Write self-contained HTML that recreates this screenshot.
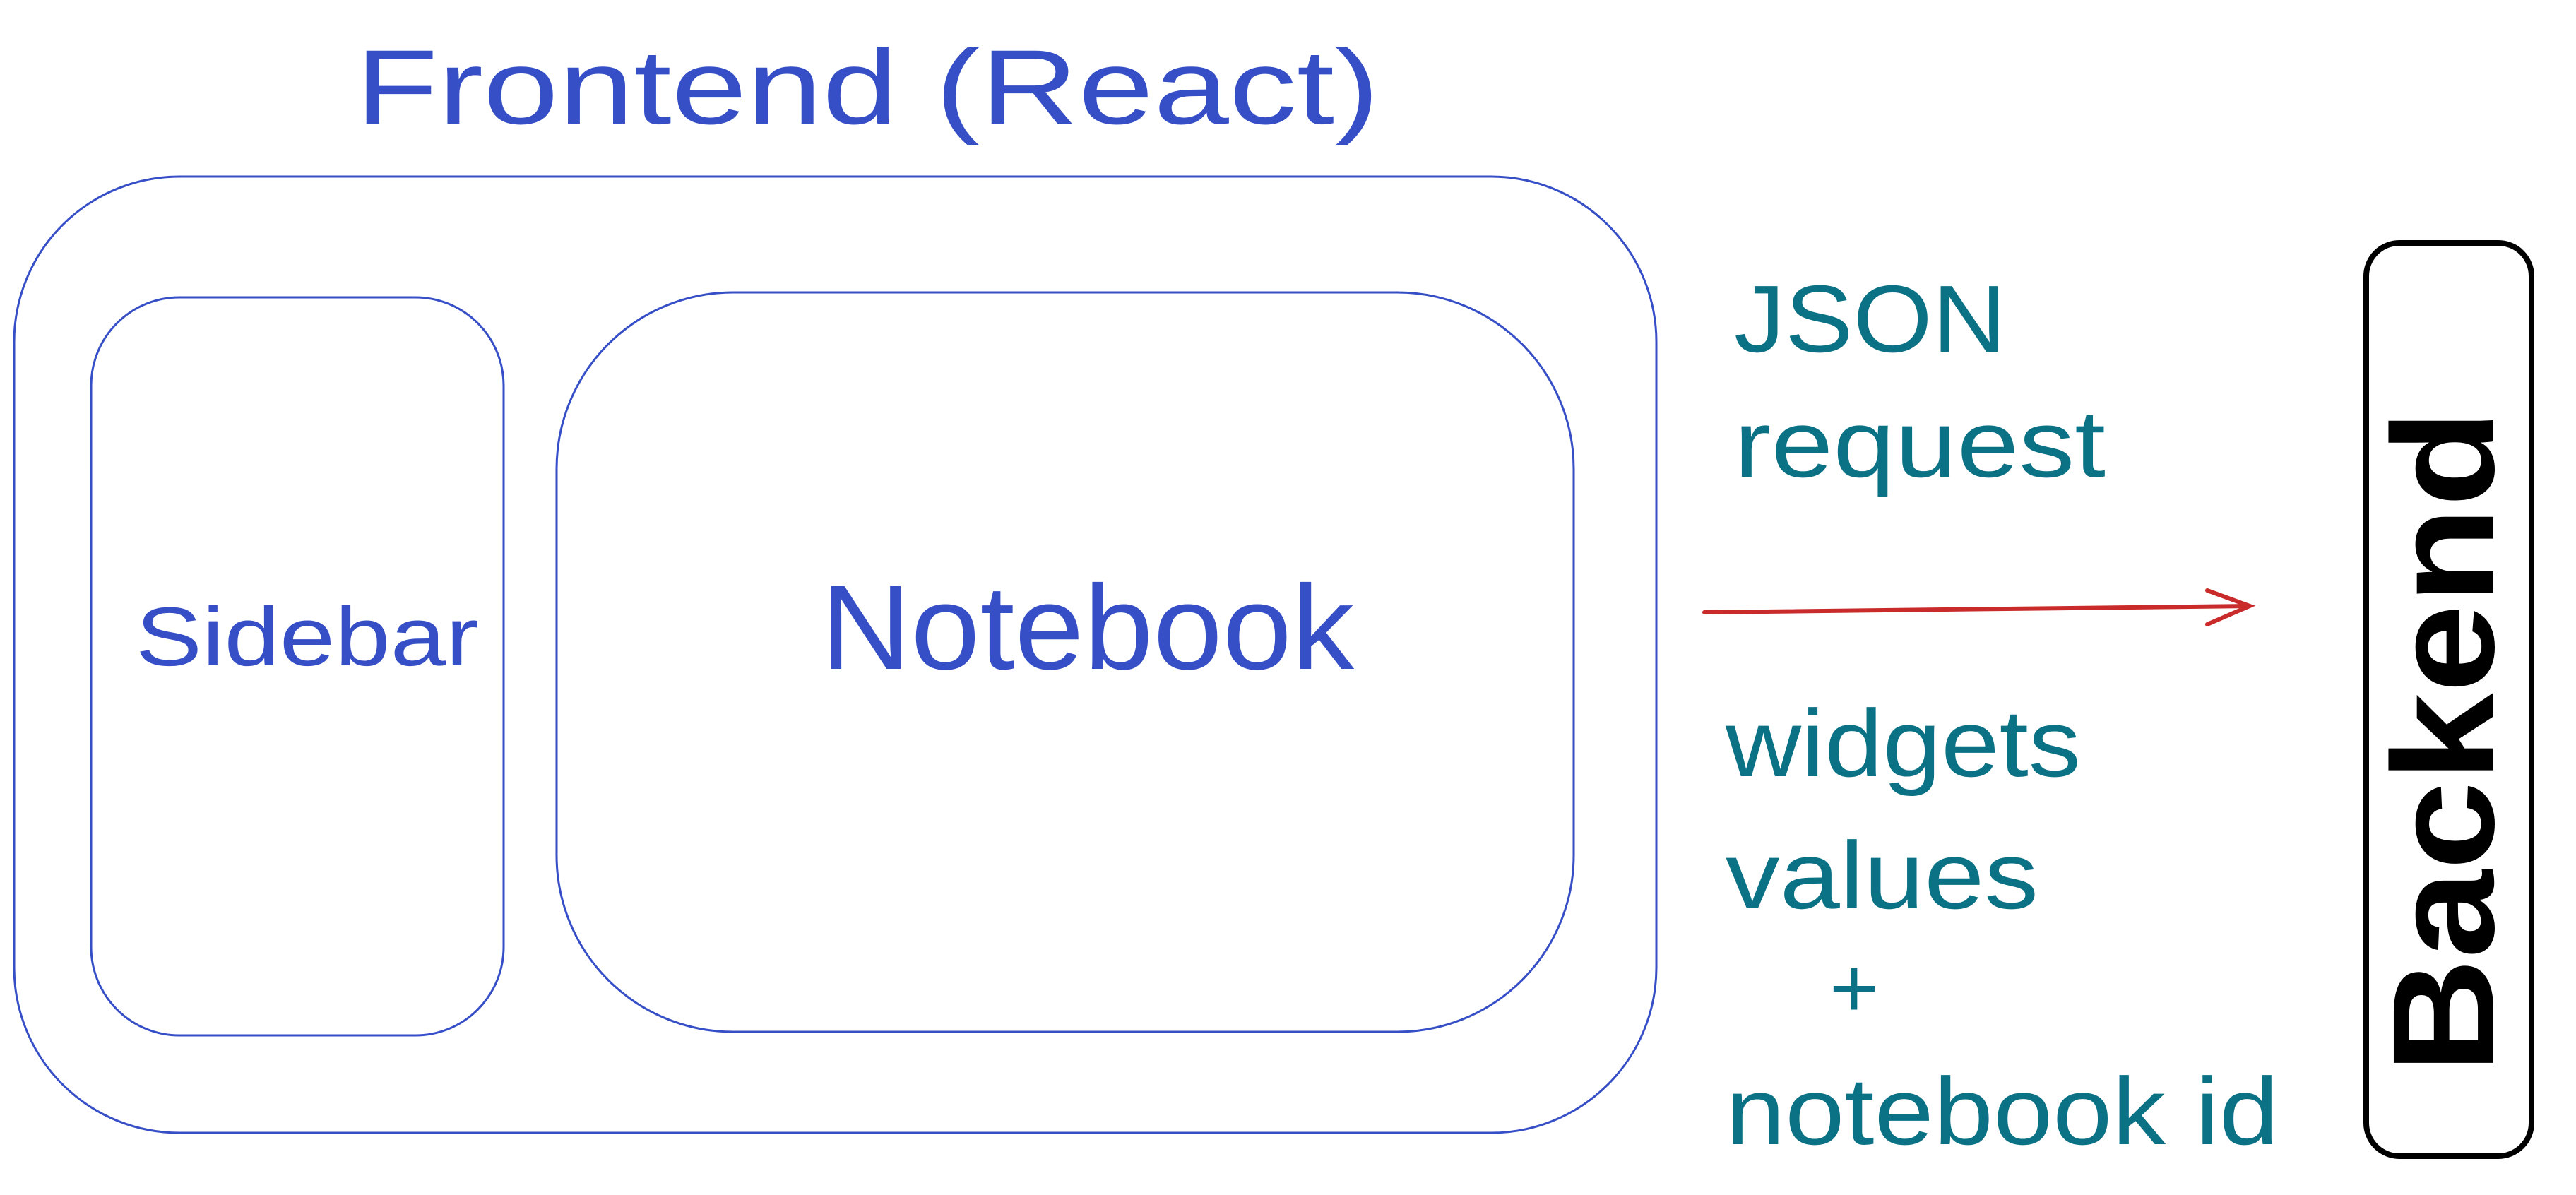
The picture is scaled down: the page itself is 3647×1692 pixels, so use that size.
<!DOCTYPE html>
<html><head><meta charset="utf-8"><style>
html,body{margin:0;padding:0;background:#fff;}
svg{display:block;}
</style></head><body>
<svg width="3647" height="1692" viewBox="0 0 3647 1692" xmlns="http://www.w3.org/2000/svg">
<g fill="none" stroke="#364fc7" stroke-width="3">
<rect x="20" y="250" width="2325" height="1354" rx="234" ry="234"/>
<rect x="129" y="421" width="584" height="1045" rx="125" ry="125"/>
<rect x="788" y="414" width="1440" height="1047" rx="250" ry="250"/>
</g>
<g font-family="'Liberation Sans', sans-serif" fill="#364fc7">
<text x="503" y="175" font-size="150" textLength="1450" lengthAdjust="spacingAndGlyphs">Frontend (React)</text>
<text x="192" y="942" font-size="118" textLength="486" lengthAdjust="spacingAndGlyphs">Sidebar</text>
<text x="1162" y="947" font-size="170" textLength="755" lengthAdjust="spacingAndGlyphs">Notebook</text>
</g>
<g font-family="'Liberation Sans', sans-serif" fill="#0b7285">
<text x="2455" y="498" font-size="135" textLength="385" lengthAdjust="spacingAndGlyphs">JSON</text>
<text x="2455" y="675" font-size="135" textLength="526" lengthAdjust="spacingAndGlyphs">request</text>
<text x="2443" y="1099" font-size="135" textLength="503" lengthAdjust="spacingAndGlyphs">widgets</text>
<text x="2443" y="1286" font-size="135" textLength="443" lengthAdjust="spacingAndGlyphs">values</text>
<text x="2590" y="1440" font-size="120">+</text>
<text x="2443" y="1620" font-size="135" textLength="783" lengthAdjust="spacingAndGlyphs">notebook id</text>
</g>
<g stroke="#c92a2a" stroke-width="6" fill="none" stroke-linecap="round">
<line x1="2413" y1="867" x2="3185" y2="858"/>
<polyline points="3125,836 3185,858 3125,884"/>
</g>
<rect x="3350" y="344" width="234" height="1293" rx="47" ry="47" fill="none" stroke="#000" stroke-width="8"/>
<text transform="translate(3530,1520) rotate(-90)" font-family="'Liberation Sans', sans-serif" font-weight="bold" font-size="205" fill="#000" textLength="940" lengthAdjust="spacingAndGlyphs">Backend</text>
</svg>
</body></html>
